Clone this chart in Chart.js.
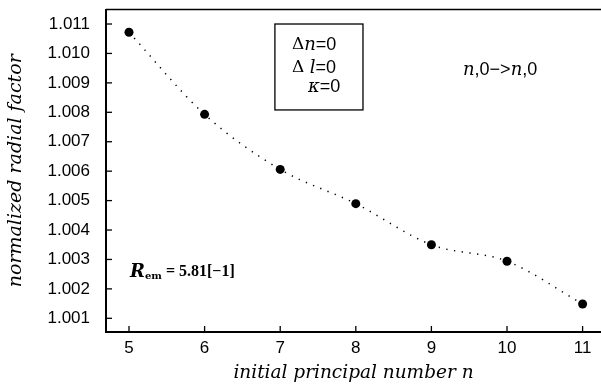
<!DOCTYPE html>
<html>
<head>
<meta charset="utf-8">
<script src="https://cdn.jsdelivr.net/npm/chart.js@4.4.0/dist/chart.umd.min.js"></script>
<style>
html, body { margin: 0; padding: 0; background: #fff; }
#wrap { width: 601px; height: 385px; }
</style>
</head>
<body>
<div id="wrap"><canvas id="radialChart"></canvas></div>
<script>
// data
const nValues = [5, 6, 7, 8, 9, 10, 11];
const radialFactor = [1.01072, 1.00793, 1.00606, 1.004895, 1.0035, 1.00294, 1.001486];
const xTicks = [5, 6, 7, 8, 9, 10, 11];
const yMajorTicks = [1.001, 1.002, 1.003, 1.004, 1.005, 1.006, 1.007, 1.008, 1.009, 1.010, 1.011];
const yMinorTicks = [1.0015, 1.0025, 1.0035, 1.0045, 1.0055, 1.0065, 1.0075, 1.0085, 1.0095, 1.0105];

const serifI = "italic 18px 'DejaVu Serif'";
const sans = "18px 'Liberation Sans'";

// annotation text, anchored in data units
const notes = [
	{ x: 7.156, y: 1.010286, runs: [['\u0394', "17px 'DejaVu Serif'"], ['n', serifI], ['=0', sans]] },
	{ x: 7.156, y: 1.009505, runs: [['\u0394 ', "17px 'DejaVu Serif'"], ['l', serifI], ['=0', sans]] },
	{ x: 7.368, y: 1.008859, runs: [['\u03ba', serifI], ['=0', sans]] },
	{ x: 9.418, y: 1.009437, runs: [['n', serifI], [',0\u2212>', sans], ['n', serifI], [',0', sans]] },
	{ x: 5.013, y: 1.002573, runs: [['R', "italic bold 18px 'DejaVu Serif'"], ['em', "bold 10px 'DejaVu Serif'", 4], [' = 5.81[\u22121]', "bold 16px 'Liberation Serif'"]] }
];
const noteBox = { x0: 6.93, x1: 8.095, y0: 1.011, y1: 1.00808 };

const decorations = {
	id: 'decorations',
	afterDraw(chart) {
		const { ctx, chartArea: a, scales: { x, y } } = chart;
		ctx.save();
		ctx.strokeStyle = '#000';
		ctx.fillStyle = '#000';
		ctx.lineWidth = 1.5;
		ctx.beginPath();
		ctx.moveTo(a.left, a.top);
		ctx.lineTo(a.right, a.top);
		ctx.stroke();

		// inward ticks
		ctx.lineWidth = 1.3;
		y.ticks.forEach(t => {
			const py = y.getPixelForValue(t.value);
			const len = t.label ? 6 : 4;
			ctx.beginPath();
			ctx.moveTo(a.left, py);
			ctx.lineTo(a.left + len, py);
			ctx.stroke();
		});
		x.ticks.forEach(t => {
			const px = x.getPixelForValue(t.value);
			ctx.beginPath();
			ctx.moveTo(px, a.bottom);
			ctx.lineTo(px, a.bottom - 6);
			ctx.stroke();
		});

		// boxed note
		const bx0 = x.getPixelForValue(noteBox.x0), bx1 = x.getPixelForValue(noteBox.x1);
		const by0 = y.getPixelForValue(noteBox.y0), by1 = y.getPixelForValue(noteBox.y1);
		ctx.lineWidth = 1.3;
		ctx.strokeRect(bx0, by0, bx1 - bx0, by1 - by0);

		ctx.textBaseline = 'middle';
		notes.forEach(n => {
			let cx = x.getPixelForValue(n.x);
			const cy = y.getPixelForValue(n.y);
			n.runs.forEach(r => {
				ctx.font = r[1];
				ctx.fillText(r[0], cx, cy + (r[2] || 0));
				cx += ctx.measureText(r[0]).width;
			});
		});
		ctx.restore();
	}
};

new Chart(document.getElementById('radialChart'), {
	type: 'line',
	data: {
		datasets: [{
			data: nValues.map((n, i) => ({ x: n, y: radialFactor[i] })),
			borderColor: '#000',
			borderWidth: 1.5,
			borderDash: [1.3, 6.5],
			cubicInterpolationMode: 'monotone',
			pointRadius: 4.5,
			pointBackgroundColor: '#000',
			pointBorderWidth: 0,
			fill: false
		}]
	},
	options: {
		responsive: true,
		maintainAspectRatio: false,
		animation: false,
		layout: { autoPadding: false, padding: { top: 9.5, left: 0, right: 0, bottom: 0 } },
		plugins: {
			legend: { display: false },
			tooltip: { enabled: false }
		},
		scales: {
			x: {
				type: 'linear',
				min: 4.6958,
				max: 11.2434,
				afterBuildTicks: s => { s.ticks = xTicks.map(v => ({ value: v })); },
				afterFit: s => { s.height = 53; s.paddingLeft = 0; s.paddingRight = 0; },
				grid: { drawOnChartArea: false, drawTicks: false },
				border: { display: true, color: '#000', width: 2 },
				ticks: {
					padding: 6,
					color: '#000',
					font: { family: "'Liberation Sans'", size: 17 },
					callback: v => String(v)
				},
				title: {
					display: true,
					text: 'initial principal number n',
					color: '#000',
					font: { family: "'DejaVu Serif'", style: 'italic', size: 18.5 },
					padding: { top: 0, bottom: 1 }
				}
			},
			y: {
				min: 1.000535,
				max: 1.011493,
				afterBuildTicks: s => {
					s.ticks = yMajorTicks.concat(yMinorTicks).sort((a, b) => a - b).map(v => ({ value: v }));
				},
				afterFit: s => { s.width = 106; s.paddingTop = 0; s.paddingBottom = 0; },
				grid: { drawOnChartArea: false, drawTicks: false },
				border: { display: true, color: '#000', width: 2 },
				ticks: {
					padding: 16,
					color: '#000',
					font: { family: "'Liberation Sans'", size: 17 },
					callback: v => (Math.round(v * 10000) % 10 === 0 ? v.toFixed(3) : '')
				},
				title: {
					display: true,
					text: 'normalized radial factor',
					color: '#000',
					font: { family: "'DejaVu Serif'", style: 'italic', size: 19 },
					padding: { top: 5, bottom: 4 }
				}
			}
		}
	},
	plugins: [decorations]
});
</script>
</body>
</html>
